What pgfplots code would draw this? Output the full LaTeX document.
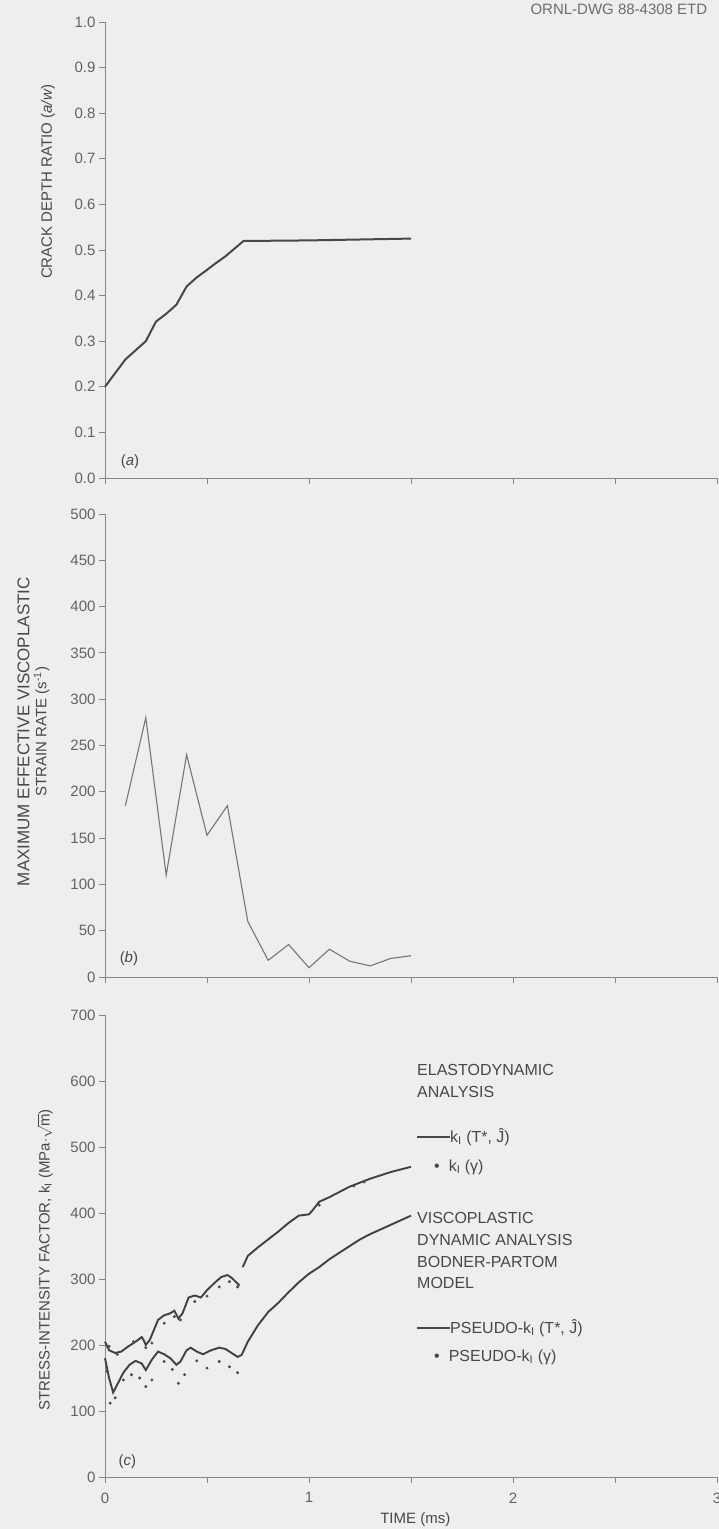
\documentclass[border=0pt]{standalone}
\usepackage{fontspec}
\setmainfont{Liberation Sans}
\usepackage{pgfplots}
\pgfplotsset{compat=1.18}

\definecolor{paper}{RGB}{238,238,236}
\definecolor{ink}{RGB}{72,72,72}
\definecolor{axisgray}{RGB}{135,135,135}

\pgfplotsset{
  panel/.style={
    scale only axis, width=612pt,
    xmin=0, xmax=3,
    axis x line*=bottom, axis y line*=left,
    axis line style={axisgray, line width=0.8pt, -},
    xtick={0,0.5,...,3},
    tick style={axisgray, line width=0.8pt},
    major tick length=6pt,
    tick align=outside,
    tick label style={font=\fontsize{15}{18}\selectfont, text=ink!85},
    /pgf/number format/assume math mode=true,
    label style={font=\fontsize{15}{17}\selectfont, text=ink},
    clip=false,
  },
}
\tikzset{paneltag/.style={font=\fontsize{15}{18}\selectfont, text=ink, anchor=west}}

\begin{document}
\begin{tikzpicture}
\path[use as bounding box, fill=paper] (0pt,0pt) rectangle (719pt,1529pt);

\node[anchor=west, font=\fontsize{15}{17}\selectfont, text=ink!80] at (527pt,1520pt) {ORNL-DWG 88-4308 ETD};

% (a) crack depth ratio
\begin{axis}[panel, at={(105pt,1051pt)}, anchor=origin, height=456pt,
  ymin=0, ymax=1, ytick={0,0.1,...,1.0},
  yticklabel style={/pgf/number format/fixed, /pgf/number format/fixed zerofill, /pgf/number format/precision=1},
  xticklabels={},
  ylabel={CRACK DEPTH RATIO (\textit{a/w})},
  ylabel style={at={(axis description cs:-0.093,0.65)}, anchor=center},
]
\addplot[ink, line width=2pt] coordinates {
  (0,0.20) (0.05,0.23) (0.10,0.26) (0.15,0.28) (0.20,0.30) (0.25,0.343)
  (0.30,0.36) (0.35,0.38) (0.40,0.42) (0.45,0.44) (0.49,0.453) (0.54,0.47)
  (0.59,0.486) (0.64,0.505) (0.68,0.52) (0.75,0.52) (1.0,0.521) (1.25,0.523) (1.5,0.525)
};
\node[paneltag] at (axis cs:0.06,0.035) {(\textit{a})};
\end{axis}

% (b) maximum effective viscoplastic strain rate
\begin{axis}[panel, at={(105pt,552pt)}, anchor=origin, height=463pt,
  ymin=0, ymax=500, ytick={0,50,...,500},
  xticklabels={},
  ylabel={{\fontsize{17}{18}\selectfont MAXIMUM EFFECTIVE VISCOPLASTIC}\\STRAIN RATE (s\textsuperscript{-1})},
  ylabel style={at={(axis description cs:-0.117,0.53)}, anchor=center, align=center},
]
\addplot[ink!75, line width=1.1pt] coordinates {
  (0.1,185) (0.2,280) (0.3,110) (0.4,240) (0.5,153) (0.6,185) (0.7,60)
  (0.8,18) (0.9,35) (1.0,10) (1.1,30) (1.2,17) (1.3,12) (1.4,20) (1.5,23)
};
\node[paneltag] at (axis cs:0.055,20) {(\textit{b})};
\end{axis}

% (c) stress-intensity factor
\begin{axis}[panel, at={(105pt,52pt)}, anchor=origin, height=462pt,
  ymin=0, ymax=700, ytick={0,100,...,700},
  xticklabels={0,,1,,2,,3},
  xticklabel style={yshift=-6pt},
  xlabel={TIME (ms)},
  xlabel style={at={(axis description cs:0.507,-0.093)}, anchor=center},
  ylabel={STRESS-INTENSITY FACTOR, k\textsubscript{I} (MPa$\cdot\sqrt{\hbox{m}}$)},
  ylabel style={at={(axis description cs:-0.098,0.47)}, anchor=center},
]
% elastodynamic k_I (T*, J)
\addplot[ink!90!black, line width=1.9pt] coordinates {
  (0,205) (0.02,192) (0.05,188) (0.08,190) (0.11,197) (0.15,205) (0.18,212)
  (0.19,207) (0.20,200) (0.22,208) (0.26,238) (0.29,245) (0.32,248) (0.34,252)
  (0.36,240) (0.38,248) (0.41,272) (0.44,275) (0.47,272) (0.50,283) (0.54,295)
  (0.57,303) (0.60,306) (0.62,302) (0.64,296) (0.66,290)
};
\addplot[ink!90!black, line width=1.9pt] coordinates {
  (0.675,318) (0.70,335) (0.75,348) (0.80,360) (0.85,372) (0.90,385) (0.95,396)
  (1.00,398) (1.02,405) (1.05,417) (1.10,424) (1.15,432) (1.20,440) (1.25,446)
  (1.30,452) (1.35,457) (1.40,462) (1.45,466) (1.50,470)
};
% elastodynamic k_I (gamma)
\addplot[only marks, mark=*, mark size=1.3pt, ink] coordinates {
  (0.02,198) (0.06,186) (0.14,205) (0.20,196) (0.23,203) (0.29,233) (0.34,243)
  (0.37,238) (0.44,266) (0.50,274) (0.56,288) (0.61,296) (0.65,288)
  (1.05,412) (1.22,441) (1.27,447)
};
% viscoplastic pseudo-k_I (T*, J)
\addplot[ink!90!black, line width=1.9pt] coordinates {
  (0,180) (0.02,150) (0.04,128) (0.06,140) (0.09,158) (0.12,170) (0.15,176)
  (0.18,172) (0.20,162) (0.23,178) (0.26,190) (0.29,186) (0.32,180) (0.35,170)
  (0.37,175) (0.40,192) (0.42,196) (0.45,190) (0.48,186) (0.52,192) (0.56,196)
  (0.59,194) (0.62,188) (0.65,182) (0.67,185) (0.70,205) (0.75,230) (0.80,250)
  (0.85,264) (0.90,280) (0.95,295) (1.00,308) (1.05,318) (1.10,330) (1.15,340)
  (1.20,350) (1.25,360) (1.30,368) (1.35,375) (1.40,382) (1.45,389) (1.50,396)
};
% viscoplastic pseudo-k_I (gamma)
\addplot[only marks, mark=*, mark size=1.3pt, ink] coordinates {
  (0.01,160) (0.025,112) (0.05,120) (0.09,147) (0.13,155) (0.17,150) (0.20,137)
  (0.23,147) (0.29,175) (0.33,163) (0.36,142) (0.39,155) (0.45,176) (0.50,165)
  (0.56,175) (0.61,167) (0.65,158)
};
\node[paneltag] at (axis cs:0.05,23) {(\textit{c})};
\end{axis}

% key for panel (c)
\begin{scope}[every node/.style={anchor=west, font=\fontsize{16}{19}\selectfont, text=ink, inner sep=0pt}]
\node at (417pt,459pt) {ELASTODYNAMIC};
\node at (417pt,437pt) {ANALYSIS};
\node at (417pt,392pt) {\textcolor{ink}{\rule[0.3em]{33pt}{1.6pt}}k\textsubscript{I} (T*, Ĵ)};
\node at (434pt,362pt) {\textbullet\hspace{9pt}k\textsubscript{I} (γ)};
\node at (417pt,311pt) {VISCOPLASTIC};
\node at (417pt,289pt) {DYNAMIC ANALYSIS};
\node at (417pt,267pt) {BODNER-PARTOM};
\node at (417pt,246pt) {MODEL};
\node at (417pt,201pt) {\textcolor{ink}{\rule[0.3em]{33pt}{1.6pt}}PSEUDO-k\textsubscript{I} (T*, Ĵ)};
\node at (434pt,172pt) {\textbullet\hspace{9pt}PSEUDO-k\textsubscript{I} (γ)};
\end{scope}
\end{tikzpicture}
\end{document}
